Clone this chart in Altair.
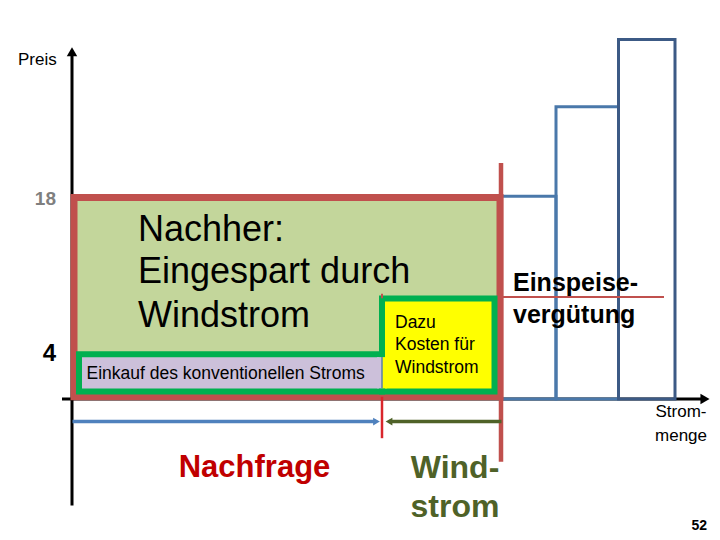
import altair as alt
import pandas as pd

# ---- values (quantity = Strommenge units, price = Preis units) ----
Q_RANGE = [-12.8, 128.0]
P_RANGE = [-11.875, 34.91]

price_old = 18.0      # Preis vorher
price_feed = 9.0      # Einspeisevergütung
price_conv = 4.0      # konventioneller Strom
q_demand = 62.0       # Nachfrage
q_wind = 85.6         # Nachfrage + Windstrom

supply_start = [85.6, 96.8, 109.3]
supply_end = [96.8, 109.3, 120.6]
supply_price = [18.1, 26.1, 32.1]
supply_color = ["#4A78AA", "#4A78AA", "#3C5A85"]

FONT = "Liberation Sans"
xs = alt.Scale(domain=Q_RANGE, nice=False, zero=False)
ys = alt.Scale(domain=P_RANGE, nice=False, zero=False)


def X(f):
    return alt.X(f, type="quantitative", scale=xs, axis=None)


def Y(f):
    return alt.Y(f, type="quantitative", scale=ys, axis=None)


def rects(rows, **kw):
    df = pd.DataFrame(rows, columns=["q0", "q1", "p0", "p1"])
    return alt.Chart(df).mark_rect(**kw).encode(x=X("q0"), x2="q1", y=Y("p0"), y2="p1")


def hrule(rows, **kw):
    df = pd.DataFrame(rows, columns=["q0", "q1", "p"])
    return alt.Chart(df).mark_rule(**kw).encode(x=X("q0"), x2="q1", y=Y("p"))


def vrule(rows, **kw):
    df = pd.DataFrame(rows, columns=["q", "p0", "p1"])
    return alt.Chart(df).mark_rule(**kw).encode(x=X("q"), y=Y("p0"), y2="p1")


def head(q, p, shape, color, size=90):
    df = pd.DataFrame({"q": [q], "p": [p]})
    return alt.Chart(df).mark_point(shape=shape, filled=True, color=color, opacity=1,
                                    size=size, strokeWidth=0).encode(x=X("q"), y=Y("p"))


def texts(rows, **kw):
    df = pd.DataFrame(rows, columns=["q", "p", "t"])
    return alt.Chart(df).mark_text(font=FONT, baseline="middle", **kw).encode(
        x=X("q"), y=Y("p"), text="t:N")


RED = "#C0504D"
GREEN = "#00B050"

layers = []

# axes
layers.append(vrule([[0, -9.5, 30.8]], color="black", strokeWidth=3))
layers.append(head(0, 31.0, "triangle-up", "black", 110))
layers.append(hrule([[-2, 126.4, 0]], color="black", strokeWidth=3))
layers.append(head(126.6, 0, "triangle-right", "black", 110))

# supply steps
sup = pd.DataFrame({"q0": supply_start, "q1": supply_end, "p0": [0] * 3,
                    "p1": supply_price, "c": supply_color})
layers.append(alt.Chart(sup).mark_rect(fill=None, strokeWidth=3).encode(
    x=X("q0"), x2="q1", y=Y("p0"), y2="p1", stroke=alt.Stroke("c:N", scale=None)))

# big red box (Eingespart)
layers.append(rects([[0.4, q_wind, 0.2, price_old]], fill="#C3D69B", stroke=RED, strokeWidth=7))

# green boxes
layers.append(rects([[1.4, q_demand, 0.67, price_conv]], fill="#CCC0DA", stroke=GREEN, strokeWidth=6))
layers.append(rects([[q_demand, 84.5, 0.67, price_feed - 0.03]], fill="#FFFF00", stroke=GREEN, strokeWidth=6))
layers.append(rects([[61.0, q_demand, 0.95, 3.74]], fill="#CCC0DA", strokeWidth=0))
layers.append(rects([[q_demand, 63.0, 0.95, 3.74]], fill="#FFFF00", strokeWidth=0))
layers.append(vrule([[q_demand, 0.95, 3.74]], color="#5A7FA8", strokeWidth=1.5))

# red lines
layers.append(vrule([[q_wind + 0.2, -5.6, 21.07]], color=RED, strokeWidth=4.5))
layers.append(hrule([[q_wind + 0.4, 118.4, price_feed + 0.1]], color=RED, strokeWidth=2))
layers.append(vrule([[q_demand, price_feed, price_feed + 0.4]], color=RED, strokeWidth=2))

# arrows below axis
layers.append(hrule([[0.1, q_demand - 1.2, -2.02]], color="#4F81BD", strokeWidth=3.5))
layers.append(head(q_demand - 1.1, -2.02, "triangle-right", "#4F81BD", 60))
layers.append(vrule([[q_demand, 0.2, -3.5]], color="#D9262C", strokeWidth=2.5))
layers.append(hrule([[q_demand + 1.5, q_wind + 0.3, -2.02]], color="#4F6228", strokeWidth=3.5))
layers.append(head(q_demand + 1.4, -2.02, "triangle-left", "#4F6228", 60))

# texts
layers.append(texts([[-10.8, 30.27, "Preis"]], fontSize=17, align="left", color="black"))
layers.append(texts([[-3.2, 17.86, "18"]], fontSize=19, align="right", color="#7F7F7F",
                    fontWeight="bold"))
layers.append(texts([[-3.2, 4.0, "4"]], fontSize=24, align="right", color="black", fontWeight="bold"))
layers.append(texts([[13.2, 15.09, "Nachher:"], [13.2, 11.34, "Eingespart durch"],
                     [13.2, 7.41, "Windstrom"]], fontSize=36, align="left", color="black"))
layers.append(texts([[2.9, 2.2, "Einkauf des konventionellen Stroms"]], fontSize=17.5,
                    align="left", color="black"))
layers.append(texts([[64.6, 6.79, "Dazu"], [64.6, 4.8, "Kosten für"], [64.6, 2.8, "Windstrom"]],
                    fontSize=17.5, align="left", color="black"))
layers.append(texts([[88.2, 10.36, "Einspeise-"], [88.2, 7.5, "vergütung"]], fontSize=25,
                    align="left", color="black", fontWeight="bold"))
layers.append(texts([[121.8, -1.16, "Strom-"], [121.8, -3.3, "menge"]], fontSize=17,
                    align="center", color="black"))
layers.append(texts([[36.5, -6.16, "Nachfrage"]], fontSize=31, align="center",
                    color="#C00000", fontWeight="bold"))
layers.append(texts([[76.6, -6.16, "Wind-"], [76.6, -9.6, "strom"]], fontSize=32,
                    align="center", color="#4F6228", fontWeight="bold"))
layers.append(texts([[127.0, -11.3, "52"]], fontSize=14, align="right", color="black",
                    fontWeight="bold"))

chart = alt.layer(*layers).properties(
    width=704, height=524, padding=0, autosize="none"
).configure_view(stroke=None)

chart.save("out.html", embed_options={"renderer": "svg", "actions": False})
